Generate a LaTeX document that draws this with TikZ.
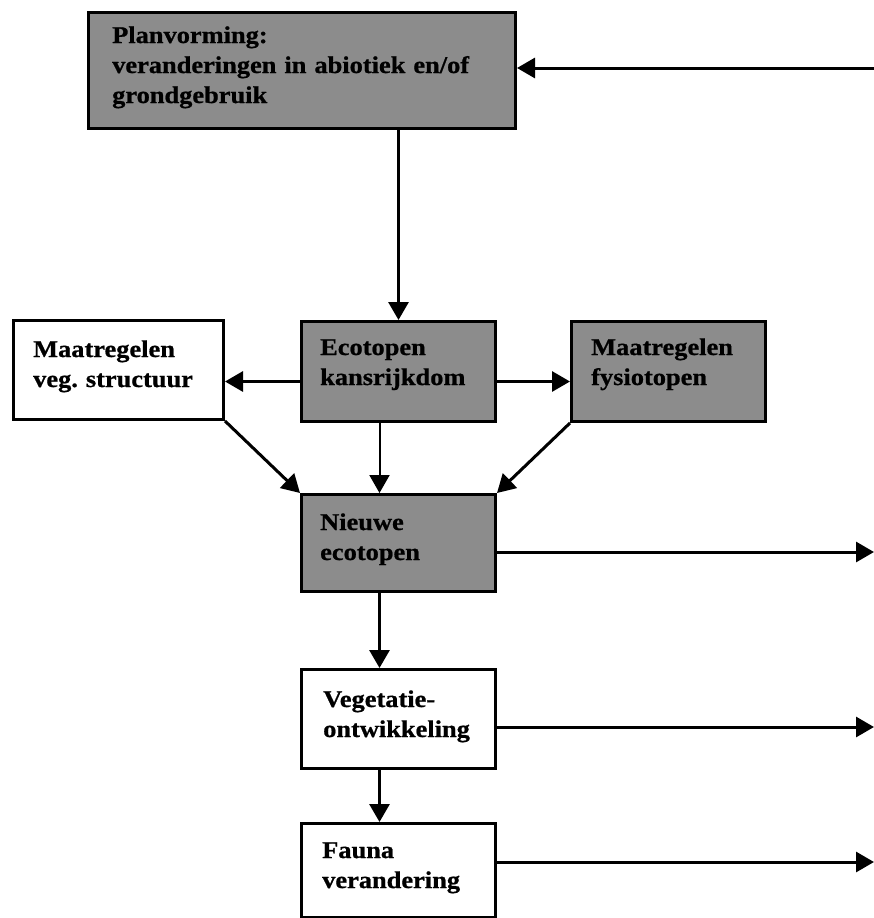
\documentclass[tikz,border=0pt]{standalone}
\usepackage{fontspec}
\newfontfamily\diafont{Liberation Serif Bold}[FakeStretch=1.1, FakeBold=0.8]
\usetikzlibrary{arrows.meta}
\tikzset{
  box/.style={draw=black, line width=3pt, rectangle, inner sep=0pt, anchor=north west},
  shaded/.style={box, fill=black!45},
  plain/.style={box, fill=white},
  txt/.style={anchor=base west, inner sep=0pt, align=left, text width=300pt,
              font=\diafont\frenchspacing\fontsize{24}{30}\selectfont},
  arr/.style={line width=3pt, -{Triangle[length=18pt,width=20pt]}},
  thinarr/.style={arr, line width=2pt},
}
\begin{document}
\begin{tikzpicture}[x=1pt,y=-1pt]
\useasboundingbox (0,0) rectangle (874,918);
% boxes
\node[shaded, minimum width=427pt, minimum height=116pt] (plan) at (87,11) {};
\node[plain,  minimum width=210pt, minimum height=99pt]  (maat) at (12,319) {};
\node[shaded, minimum width=194pt, minimum height=100pt] (eco)  at (300,320) {};
\node[shaded, minimum width=194pt, minimum height=100pt] (fysio) at (570,320) {};
\node[shaded, minimum width=194pt, minimum height=97pt]  (nieuw) at (300,493) {};
\node[plain,  minimum width=194pt, minimum height=99pt]  (veg)  at (300,668) {};
\node[plain,  minimum width=194pt, minimum height=94pt]  (fauna) at (300,822) {};
% texts
\node[txt, text width=420pt] (planT) at (112,43) {Planvorming:\\veranderingen in abiotiek en/of\\grondgebruik};
\node[txt] (maatT) at (33,357) {Maatregelen\\veg. structuur};
\node[txt] (ecoT) at (320,355) {Ecotopen\\kansrijkdom};
\node[txt] (fysioT) at (591,355) {Maatregelen\\fysiotopen};
\node[txt] (nieuwT) at (320,530) {Nieuwe\\ecotopen};
\node[txt] (vegT) at (323,707) {Vegetatie-\\ontwikkeling};
\node[txt] (faunaT) at (322,858) {Fauna\\verandering};
% free ends
\coordinate (inR) at (874,68);
\coordinate (outN) at (874,552);
\coordinate (outV) at (874,727);
\coordinate (outF) at (874,862);
% connectors
\draw[arr] (inR) -- (inR -| plan.east);
\draw[arr] (eco.north |- plan.south) -- (eco.north);
\draw[arr] ([yshift=-10pt]eco.west) -- ([yshift=-10pt]eco.west -| maat.east);
\draw[arr] ([yshift=-10pt]eco.east) -- ([yshift=-10pt]eco.east -| fysio.west);
\draw[arr] (maat.south east) -- (nieuw.north west);
\draw[arr] (fysio.south west) -- (nieuw.north east);
\draw[thinarr] ([xshift=-19pt]eco.south) -- ([xshift=-19pt]nieuw.north);
\draw[arr] (nieuw.east |- outN) -- (outN);
\draw[arr] ([xshift=-19pt]nieuw.south) -- ([xshift=-19pt]veg.north);
\draw[arr] (veg.east |- outV) -- (outV);
\draw[arr] ([xshift=-19pt]veg.south) -- ([xshift=-19pt]fauna.north);
\draw[arr] (fauna.east |- outF) -- (outF);
\end{tikzpicture}
\end{document}
